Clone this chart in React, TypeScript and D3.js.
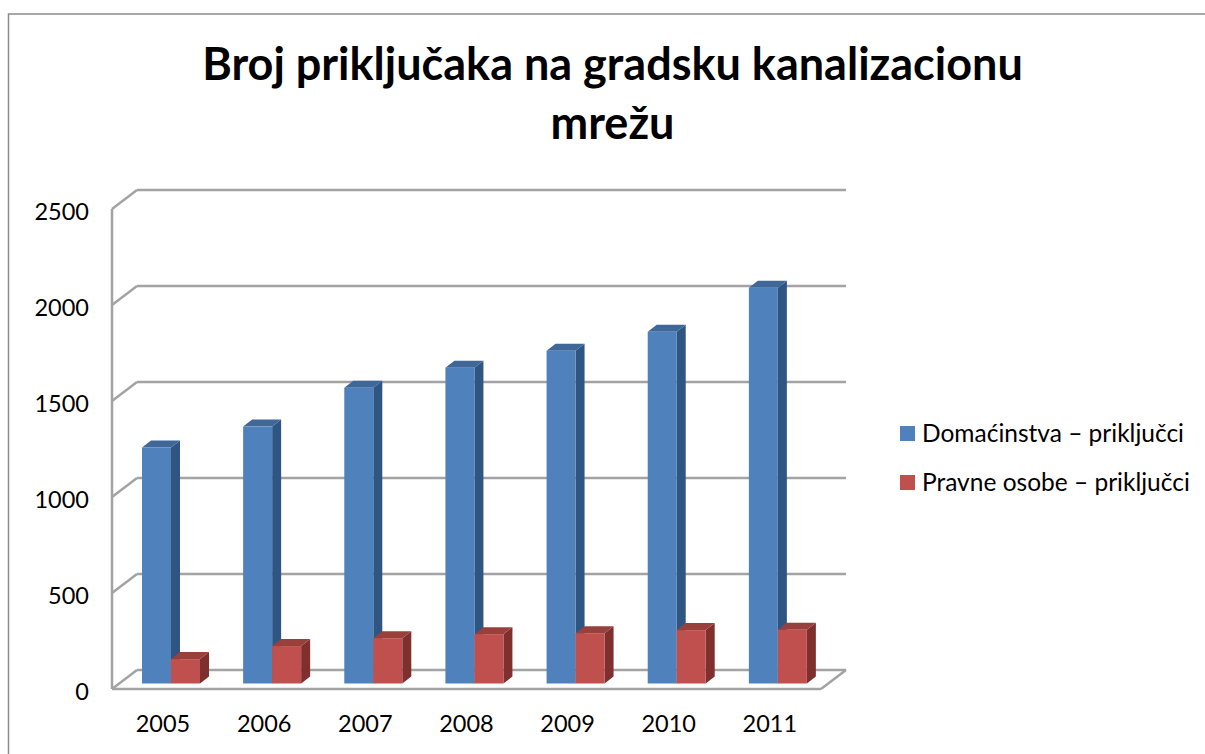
import React from "react";
import * as d3 from "d3";

const years = ["2005", "2006", "2007", "2008", "2009", "2010", "2011"];
const households = [1229, 1338, 1541, 1645, 1733, 1832, 2061];
const legalEntities = [127, 195, 236, 257, 262, 278, 280];
const yTicks = [0, 500, 1000, 1500, 2000, 2500];
const seriesNames = ["Domaćinstva – priključci", "Pravne osobe – priključci"];
const FONT = "Lato, Carlito, 'Open Sans', sans-serif";

const W = 1205, H = 754;
const frontL = 112, frontR = 821, frontB = 689, frontT = 209;
const wallDX = 25, wallDY = -19;
const y = d3.scaleLinear().domain([0, 2500]).range([frontB, frontT]);
const x = d3.scaleBand().domain(years).range([frontL, frontR - 1]);
const barW = 29, barOff = 30, baseLift = 5.5, dX = 9, dY = -7;
const GRID = "#a3a3a3";
const GW = 2.5;

function Bar({ bx, v, front, top, side }: { bx: number; v: number; front: string; top: string; side: string }) {
  const yTop = y(v) - baseLift, yBase = frontB - baseLift;
  return (
    <g>
      <polygon points={`${bx + barW},${yTop} ${bx + barW + dX},${yTop + dY} ${bx + barW + dX},${yBase + dY} ${bx + barW},${yBase}`} fill={side} />
      <polygon points={`${bx},${yTop} ${bx + dX},${yTop + dY} ${bx + barW + dX},${yTop + dY} ${bx + barW},${yTop}`} fill={top} />
      <rect x={bx} y={yTop} width={barW} height={yBase - yTop} fill={front} />
    </g>
  );
}

export default function App() {
  return (
    <svg width={W} height={H} style={{ position: "absolute", left: 0, top: 0, background: "#fff" }} fontFamily={FONT}>
      <path d={`M8.5,${H} V14 H${W}`} fill="none" stroke="#8c8c8c" strokeWidth={1.5} />
      <text textAnchor="middle" fontWeight={700} fontSize={45} fill="#000">
        <tspan x={612.5} y={80}>Broj priključaka na gradsku kanalizacionu</tspan>
        <tspan x={612.5} y={139}>mrežu</tspan>
      </text>

      {yTicks.map((t) => (
        <g key={t}>
          <line x1={frontL + wallDX} x2={frontR + wallDX} y1={y(t) + wallDY} y2={y(t) + wallDY} stroke={GRID} strokeWidth={GW} />
          <line x1={frontL} x2={frontL + wallDX} y1={y(t)} y2={y(t) + wallDY} stroke={GRID} strokeWidth={GW} />
          <text x={89} y={y(t) + 10.5} textAnchor="end" fontSize={23.5} fill="#000">{t}</text>
        </g>
      ))}
      <line x1={frontL} x2={frontL} y1={frontT} y2={frontB} stroke={GRID} strokeWidth={GW} />
      <line x1={frontL} x2={frontR} y1={frontB} y2={frontB} stroke={GRID} strokeWidth={GW} />
      <line x1={frontR} x2={frontR + wallDX} y1={frontB} y2={frontB + wallDY} stroke={GRID} strokeWidth={GW} />

      {years.map((yr, i) => {
        const bx = (x(yr) as number) + barOff;
        return (
          <g key={yr}>
            <Bar bx={bx} v={households[i]} front="#4f81bd" top="#3f6797" side="#2f5682" />
            <Bar bx={bx + barW} v={legalEntities[i]} front="#c0504d" top="#99403d" side="#7f2f2d" />
            <text x={(x(yr) as number) + 51} y={732} textAnchor="middle" fontSize={23.5} fill="#000">{yr}</text>
          </g>
        );
      })}

      {seriesNames.map((n, i) => (
        <g key={n}>
          <rect x={900} y={426 + i * 49} width={15} height={15} fill={i === 0 ? "#4f81bd" : "#c0504d"} />
          <text x={922} y={442 + i * 49} fontSize={24.5} fill="#000">{n}</text>
        </g>
      ))}
    </svg>
  );
}
